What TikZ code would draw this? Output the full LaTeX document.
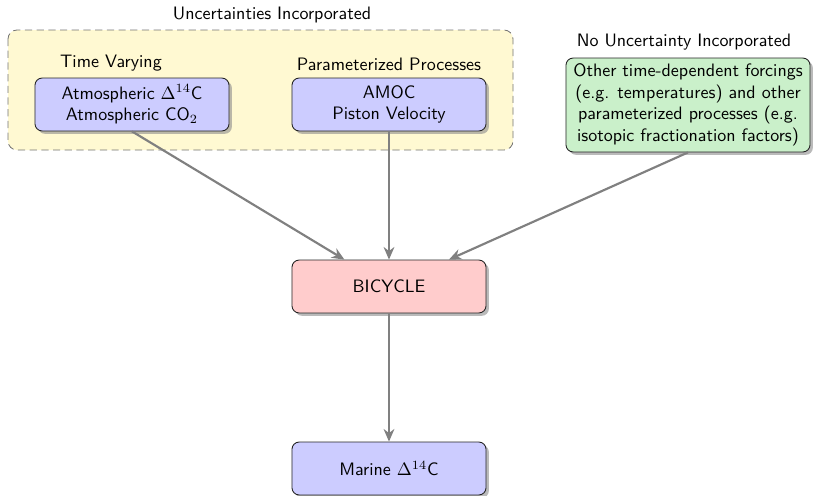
\documentclass[tikz,border=0pt]{standalone}
\usetikzlibrary{arrows.meta,shadows}
\definecolor{grpyellow}{RGB}{255,249,210}
\definecolor{softgreen}{RGB}{202,240,202}
\begin{document}
\begin{tikzpicture}[x=0.5556pt,y=-0.5556pt,
  every node/.style={font=\sffamily},
  box/.style={draw=black!85, line width=0.5pt, rounded corners=4pt, align=center,
    drop shadow={shadow xshift=1.6pt, shadow yshift=-1.6pt, fill=black!45, opacity=0.6},
    inner sep=2pt},
  smallbox/.style={box, minimum width=107.8pt, minimum height=29.4pt},
  conn/.style={draw=black!50, line width=1.2pt, -{Stealth[length=7pt,width=6pt]}},
  lbl/.style={inner sep=0pt}]
\useasboundingbox (0,0) rectangle (824,496);
% yellow group
\draw[draw=black!55, fill=grpyellow, dashed, dash pattern=on 4pt off 2.5pt, line width=0.45pt, rounded corners=5pt] (8,30) rectangle (513,150);
\node[lbl] (tu) at (272,15) {Uncertainties Incorporated};
\node[lbl] (tt) at (111,63) {Time Varying};
\node[lbl] (tp) at (389,64) {Parameterized Processes};
\node[lbl] (tn) at (684,42) {No Uncertainty Incorporated};
\node[smallbox, fill=blue!20] (b1) at (132,104.5) {Atmospheric $\Delta^{14}$C\\Atmospheric CO$_2$};
\node[smallbox, fill=blue!20] (b2) at (389,104.5) {AMOC\\Piston Velocity};
\node[box, fill=softgreen, minimum width=135.6pt, minimum height=52.2pt] (g) at (688,105)
  {Other time-dependent forcings\\(e.g. temperatures) and other\\parameterized processes (e.g.\\isotopic fractionation factors)};
\node[smallbox, fill=red!20] (bc) at (389,286.5) {BICYCLE};
\node[smallbox, fill=blue!20] (m) at (389,468.5) {Marine $\Delta^{14}$C};
\draw[conn] (b1.south) -- (bc);
\draw[conn] (b2.south) -- (bc);
\draw[conn] (g.south) -- (bc);
\draw[conn] (bc) -- (m);
\end{tikzpicture}
\end{document}
